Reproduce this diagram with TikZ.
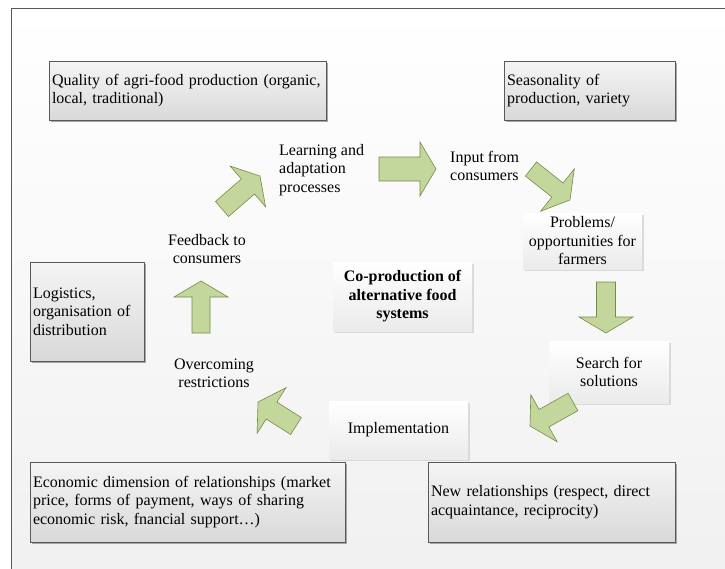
\documentclass[tikz,border=0pt]{standalone}
\usepackage{fontspec}
\setmainfont{Liberation Serif}
\usetikzlibrary{calc,shadows}

\definecolor{leaf}{RGB}{195,214,155}
\definecolor{leafedge}{RGB}{118,140,70}
\definecolor{frameline}{RGB}{89,89,89}

\tikzset{
  topic/.style={draw=frameline, line width=0.8pt, top color=black!4, bottom color=black!15,
    drop shadow={fill=black!35, shadow xshift=1.5pt, shadow yshift=-1.5pt, opacity=1},
    align=left, inner xsep=3pt, inner ysep=0pt},
  stage/.style={top color=white, bottom color=black!8,
    drop shadow={fill=black!15, shadow xshift=1.5pt, shadow yshift=-1.5pt, opacity=1},
    align=center, inner sep=0pt},
  phase/.style={inner sep=0pt},
  flow/.style={fill=leaf, draw=leafedge, line width=0.6pt, line join=miter}
}

\begin{document}
\begin{tikzpicture}
  [x=1pt,y=-1pt,every node/.style={font=\fontsize{16pt}{18.5pt}\selectfont}]
    \clip (0,0) rectangle (725,568);
    \fill[white] (0,0) rectangle (725,568);
    \draw[frameline, line width=0.8pt, top color=white, bottom color=black!6] (11,8) rectangle (760,600);

    % outer ring of topics
    \node (quality) [topic, text width=271pt, minimum height=59pt] at (187.5,90.5)
      {Quality of agri-food production (organic,\\ local, traditional)};
    \node (season)  [topic, text width=165pt, minimum height=59pt] at (589.5,90.5)
      {Seasonality of\\ production, variety};
    \node (logist)  [topic, text width=108pt, minimum height=99pt] at (87,311.5)
      {Logistics,\\ organisation of\\ distribution};
    \node (econ)    [topic, text width=309pt, minimum height=80pt] at (187.5,502)
      {Economic dimension of relationships (market\\ price, forms of payment, ways of sharing\\ economic risk, fnancial support…)};
    \node (newrel)  [topic, text width=241pt, minimum height=80pt] at (551.5,502)
      {New relationships (respect, direct\\ acquaintance, reciprocity)};

    % cycle of stages
    \node (core)    [stage, minimum width=139pt, minimum height=69pt, font=\fontsize{16pt}{18.5pt}\selectfont\bfseries] at (402.5,296.5)
      {Co-production of\\ alternative food\\ systems};
    \node (problem) [stage, minimum width=119pt, minimum height=56pt] at (582.5,241) {Problems/\\ opportunities for\\ farmers};
    \node (search)  [stage, minimum width=120pt, minimum height=62pt] at (609,372) {Search for\\ solutions};
    \node (implem)  [stage, minimum width=139pt, minimum height=58pt] at (398.5,430) {Implementation};
    \node (learn)   [phase, anchor=west, align=left] at (279,170) {Learning and\\ adaptation\\ processes};
    \node (input)   [phase, anchor=west, align=left] at (450,166) {Input from\\ consumers};
    \node (feedb)   [phase, align=center] at (207,249) {Feedback to\\ consumers};
    \node (overc)   [phase, align=center] at (214,373.5) {Overcoming\\ restrictions};

    \coordinate (fb-t) at (222,209);  \coordinate (fb-h) at (260,176);
    \coordinate (ln-t) at (379,169);  \coordinate (ln-h) at (436,169);
    \coordinate (in-t) at (531,169);  \coordinate (in-h) at (570,200);
    \coordinate (pr-t) at (606,282);  \coordinate (pr-h) at (606,333);
    \coordinate (se-t) at (573,402);  \coordinate (se-h) at (530,426);
    \coordinate (im-t) at (296,426);  \coordinate (im-h) at (258,402);
    \coordinate (ov-t) at (201,333);  \coordinate (ov-h) at (201,281);

    \foreach \from/\to/\sw in {fb-t/fb-h/10,ln-t/ln-h/12,in-t/in-h/9,pr-t/pr-h/9.5,se-t/se-h/10,im-t/im-h/10,ov-t/ov-h/9}
    {
      \coordinate (hb) at ($(\to)!16pt!(\from)$);
      \draw[flow] ($(\from)!\sw pt!90:(\to)$) -- ($(hb)!\sw pt!90:(\to)$) -- ($(hb)!27pt!90:(\to)$)
        -- (\to) -- ($(hb)!27pt!-90:(\to)$) -- ($(hb)!\sw pt!-90:(\to)$) -- ($(\from)!\sw pt!-90:(\to)$) -- cycle;
    }
  \end{tikzpicture}
\end{document}
